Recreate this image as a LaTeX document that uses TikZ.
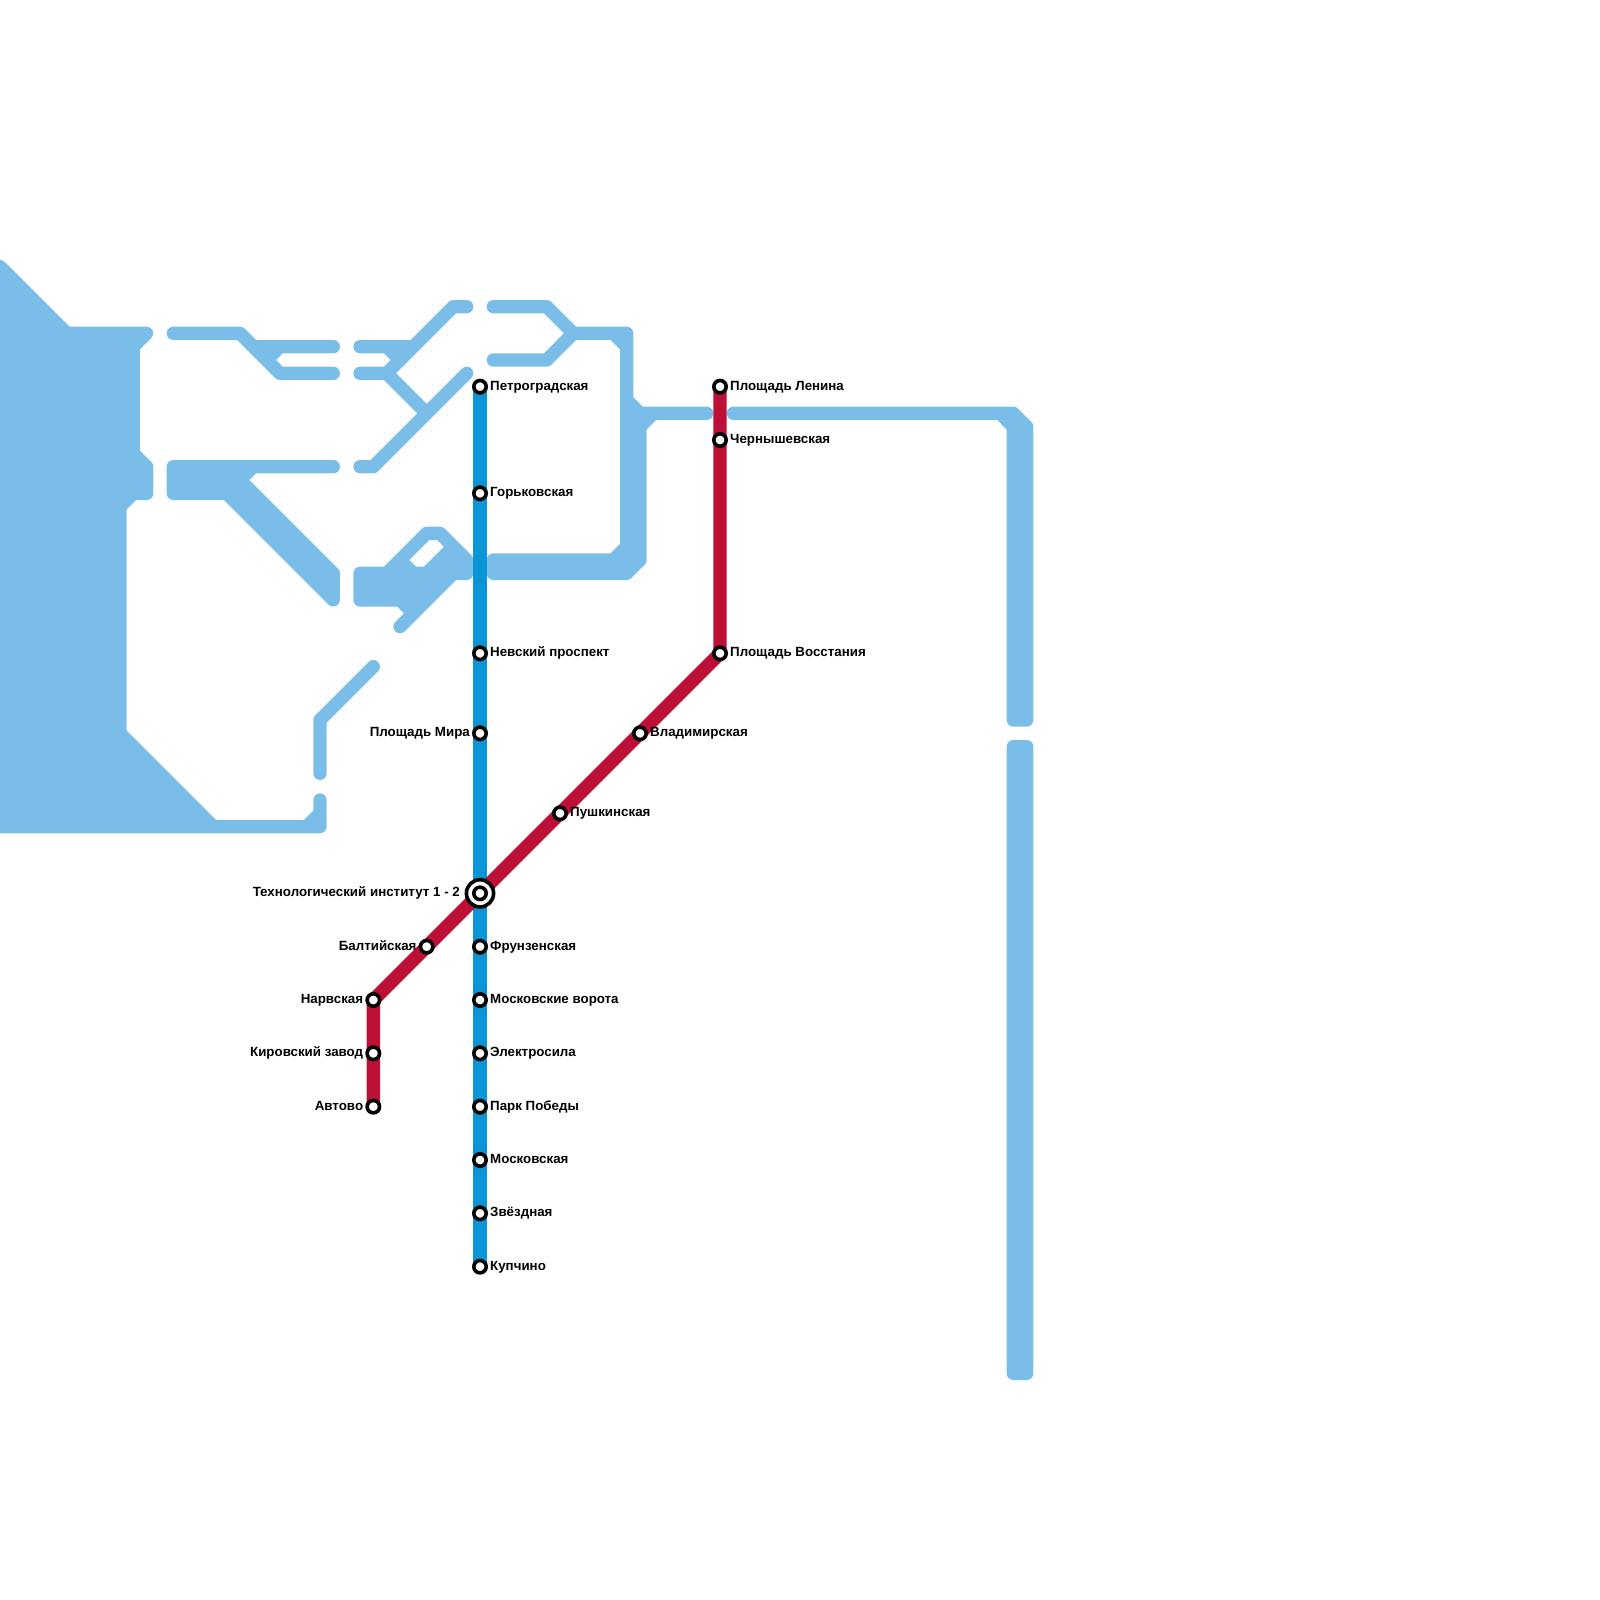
\documentclass[tikz,border=0pt]{standalone}
\usepackage{fontspec}
\setmainfont{Liberation Sans}
\usetikzlibrary{backgrounds}
\definecolor{lightline}{HTML}{7ABDE9}
\definecolor{blueline}{HTML}{0A96D6}
\definecolor{redline}{HTML}{BC1037}
\tikzset{
  plan/.style={draw=lightline,line width=13.33pt,line cap=round,line join=round},
  metroline/.style={line width=13.33pt,line cap=butt,line join=round},
  stn/.style={circle,draw=black,fill=white,line width=3.6pt,inner sep=0pt,minimum size=12.4pt,outer sep=0pt},
  stnbig/.style={circle,draw=black,fill=white,line width=3.6pt,inner sep=0pt,minimum size=27.2pt,outer sep=0pt},
  lbl/.style={font=\fontsize{13.33}{16}\selectfont\bfseries,inner sep=0pt,text height=9.6pt,text depth=3pt,text=black,yshift=-0.3pt},
  lblr/.style={lbl,anchor=west,xshift=10pt},
  lbll/.style={lbl,anchor=east,xshift=-10pt},
}
\begin{document}
\begin{tikzpicture}[x=1pt,y=-1pt]
\useasboundingbox (0,0) rectangle (1600,1600);
% stations, blue line
\node[stn] (pet) at (480,386.67) {};
\node[stn] (gor) at (480,493.33) {};
\node[stn] (nev) at (480,653.33) {};
\node[stn] (mir) at (480,733.33) {};
\node[stnbig] (tehb) at (480,893.33) {};
\node[stn] (teh) at (480,893.33) {};
\node[stn] (fru) at (480,946.67) {};
\node[stn] (mvo) at (480,1000) {};
\node[stn] (ele) at (480,1053.33) {};
\node[stn] (pob) at (480,1106.67) {};
\node[stn] (mos) at (480,1160) {};
\node[stn] (zve) at (480,1213.33) {};
\node[stn] (kup) at (480,1266.67) {};
% stations, red line
\node[stn] (len) at (720,386.67) {};
\node[stn] (che) at (720,440) {};
\node[stn] (vos) at (720,653.33) {};
\node[stn] (vla) at (640,733.33) {};
\node[stn] (pus) at (560,813.33) {};
\node[stn] (bal) at (426.67,946.67) {};
\node[stn] (nar) at (373.33,1000) {};
\node[stn] (kir) at (373.33,1053.33) {};
\node[stn] (avt) at (373.33,1106.67) {};
% labels
\node[lblr] (tpet) at (pet) {Петроградская};
\node[lblr] (tgor) at (gor) {Горьковская};
\node[lblr] (tnev) at (nev) {Невский проспект};
\node[lbll] (tmir) at (mir) {Площадь Мира};
\node[lbl,anchor=east,xshift=-20pt] (tteh) at (teh) {Технологический институт 1 - 2};
\node[lblr] (tfru) at (fru) {Фрунзенская};
\node[lblr] (tmvo) at (mvo) {Московские ворота};
\node[lblr] (tele) at (ele) {Электросила};
\node[lblr] (tpob) at (pob) {Парк Победы};
\node[lblr] (tmos) at (mos) {Московская};
\node[lblr] (tzve) at (zve) {Звёздная};
\node[lblr] (tkup) at (kup) {Купчино};
\node[lblr] (tlen) at (len) {Площадь Ленина};
\node[lblr] (tche) at (che) {Чернышевская};
\node[lblr] (tvos) at (vos) {Площадь Восстания};
\node[lblr] (tvla) at (vla) {Владимирская};
\node[lblr] (tpus) at (pus) {Пушкинская};
\node[lbll] (tbal) at (bal) {Балтийская};
\node[lbll] (tnar) at (nar) {Нарвская};
\node[lbll] (tkir) at (kir) {Кировский завод};
\node[lbll] (tavt) at (avt) {Автово};
\begin{pgfonlayer}{background}
% pale plan shapes: areas
\fill[lightline] (0,266.67) -- (66.67,333.33) -- (146.67,333.33) -- (133.33,346.67) -- (133.33,453.33) -- (146.67,466.67) -- (146.67,493.33) -- (133.33,493.33) -- (120,506.67) -- (120,733.33) -- (213.33,826.67) -- (320,826.67) -- (0,826.67) -- cycle;
\fill[lightline] (173.33,466.67) -- (253.33,466.67) -- (240,480) -- (333.33,573.33) -- (333.33,600) -- (226.67,493.33) -- (173.33,493.33) -- cycle;
\fill[lightline] (493.33,560) -- (613.33,560) -- (626.67,546.67) -- (626.67,400) -- (640,413.33) -- (653.33,413.33) -- (640,426.67) -- (640,560) -- (626.67,573.33) -- (493.33,573.33) -- cycle;
\fill[lightline,even odd rule] (360,573.33) -- (386.67,573.33) -- (426.67,533.33) -- (440,533.33) -- (466.67,560) -- (466.67,573.33) -- (453.33,573.33) -- (413.33,613.33) -- (400,600) -- (360,600) -- cycle
  (400,560) -- (426.67,533.33) -- (440,533.33) -- (453.33,546.67) -- (426.67,573.33) -- (413.33,573.33) -- cycle;
\fill[lightline] (1000,413.33) -- (1013.33,413.33) -- (1026.67,426.67) -- (1026.67,720) -- (1013.33,720) -- (1013.33,426.67) -- cycle;
\fill[lightline] (1013.33,746.67) -- (1026.67,746.67) -- (1026.67,1373.33) -- (1013.33,1373.33) -- cycle;
% pale plan shapes: all strokes, painted at once
\draw[plan]
  (0,266.67) -- (66.67,333.33) -- (146.67,333.33) -- (133.33,346.67) -- (133.33,453.33) -- (146.67,466.67) -- (146.67,493.33) -- (133.33,493.33) -- (120,506.67) -- (120,733.33) -- (213.33,826.67) -- (320,826.67) -- (0,826.67) -- cycle
  (306.67,826.67) -- (320,813.33)
  (320,826.67) -- (320,800)
  (373.33,666.67) -- (320,720) -- (320,773.33)
  (173.33,333.33) -- (240,333.33) -- (280,373.33) -- (333.33,373.33)
  (240,333.33) -- (253.33,346.67) -- (333.33,346.67)
  (280,346.67) -- (266.67,360)
  (173.33,466.67) -- (253.33,466.67) -- (240,480) -- (333.33,573.33) -- (333.33,600) -- (226.67,493.33) -- (173.33,493.33) -- cycle
  (253.33,466.67) -- (333.33,466.67)
  (360,346.67) -- (413.33,346.67)
  (466.67,306.67) -- (453.33,306.67) -- (386.67,373.33) -- (360,373.33)
  (386.67,346.67) -- (400,360)
  (386.67,373.33) -- (426.67,413.33)
  (466.67,373.33) -- (373.33,466.67) -- (360,466.67)
  (493.33,306.67) -- (546.67,306.67) -- (573.33,333.33) -- (626.67,333.33) -- (626.67,400)
  (493.33,360) -- (546.67,360) -- (573.33,333.33)
  (613.33,333.33) -- (626.67,346.67)
  (493.33,560) -- (613.33,560) -- (626.67,546.67) -- (626.67,400) -- (640,413.33) -- (653.33,413.33) -- (640,426.67) -- (640,560) -- (626.67,573.33) -- (493.33,573.33) -- cycle
  (640,413.33) -- (706.67,413.33)
  (360,573.33) -- (386.67,573.33) -- (426.67,533.33) -- (440,533.33) -- (466.67,560) -- (466.67,573.33) -- (453.33,573.33) -- (413.33,613.33) -- (400,600) -- (360,600) -- cycle
  (400,560) -- (426.67,533.33) -- (440,533.33) -- (453.33,546.67) -- (426.67,573.33) -- (413.33,573.33) -- cycle
  (413.33,613.33) -- (400,626.67)
  (733.33,413.33) -- (1013.33,413.33)
  (1000,413.33) -- (1013.33,413.33) -- (1026.67,426.67) -- (1026.67,720) -- (1013.33,720) -- (1013.33,426.67) -- cycle
  (1013.33,746.67) -- (1026.67,746.67) -- (1026.67,1373.33) -- (1013.33,1373.33) -- cycle;
% metro lines
\draw[metroline,draw=blueline] (pet.center) -- (gor.center) -- (nev.center) -- (mir.center) -- (teh.center) -- (fru.center) -- (mvo.center) -- (ele.center) -- (pob.center) -- (mos.center) -- (zve.center) -- (kup.center);
\draw[metroline,draw=redline] (len.center) -- (che.center) -- (vos.center) -- (vla.center) -- (pus.center) -- (teh.center) -- (bal.center) -- (nar.center) -- (kir.center) -- (avt.center);
\end{pgfonlayer}
\end{tikzpicture}
\end{document}
